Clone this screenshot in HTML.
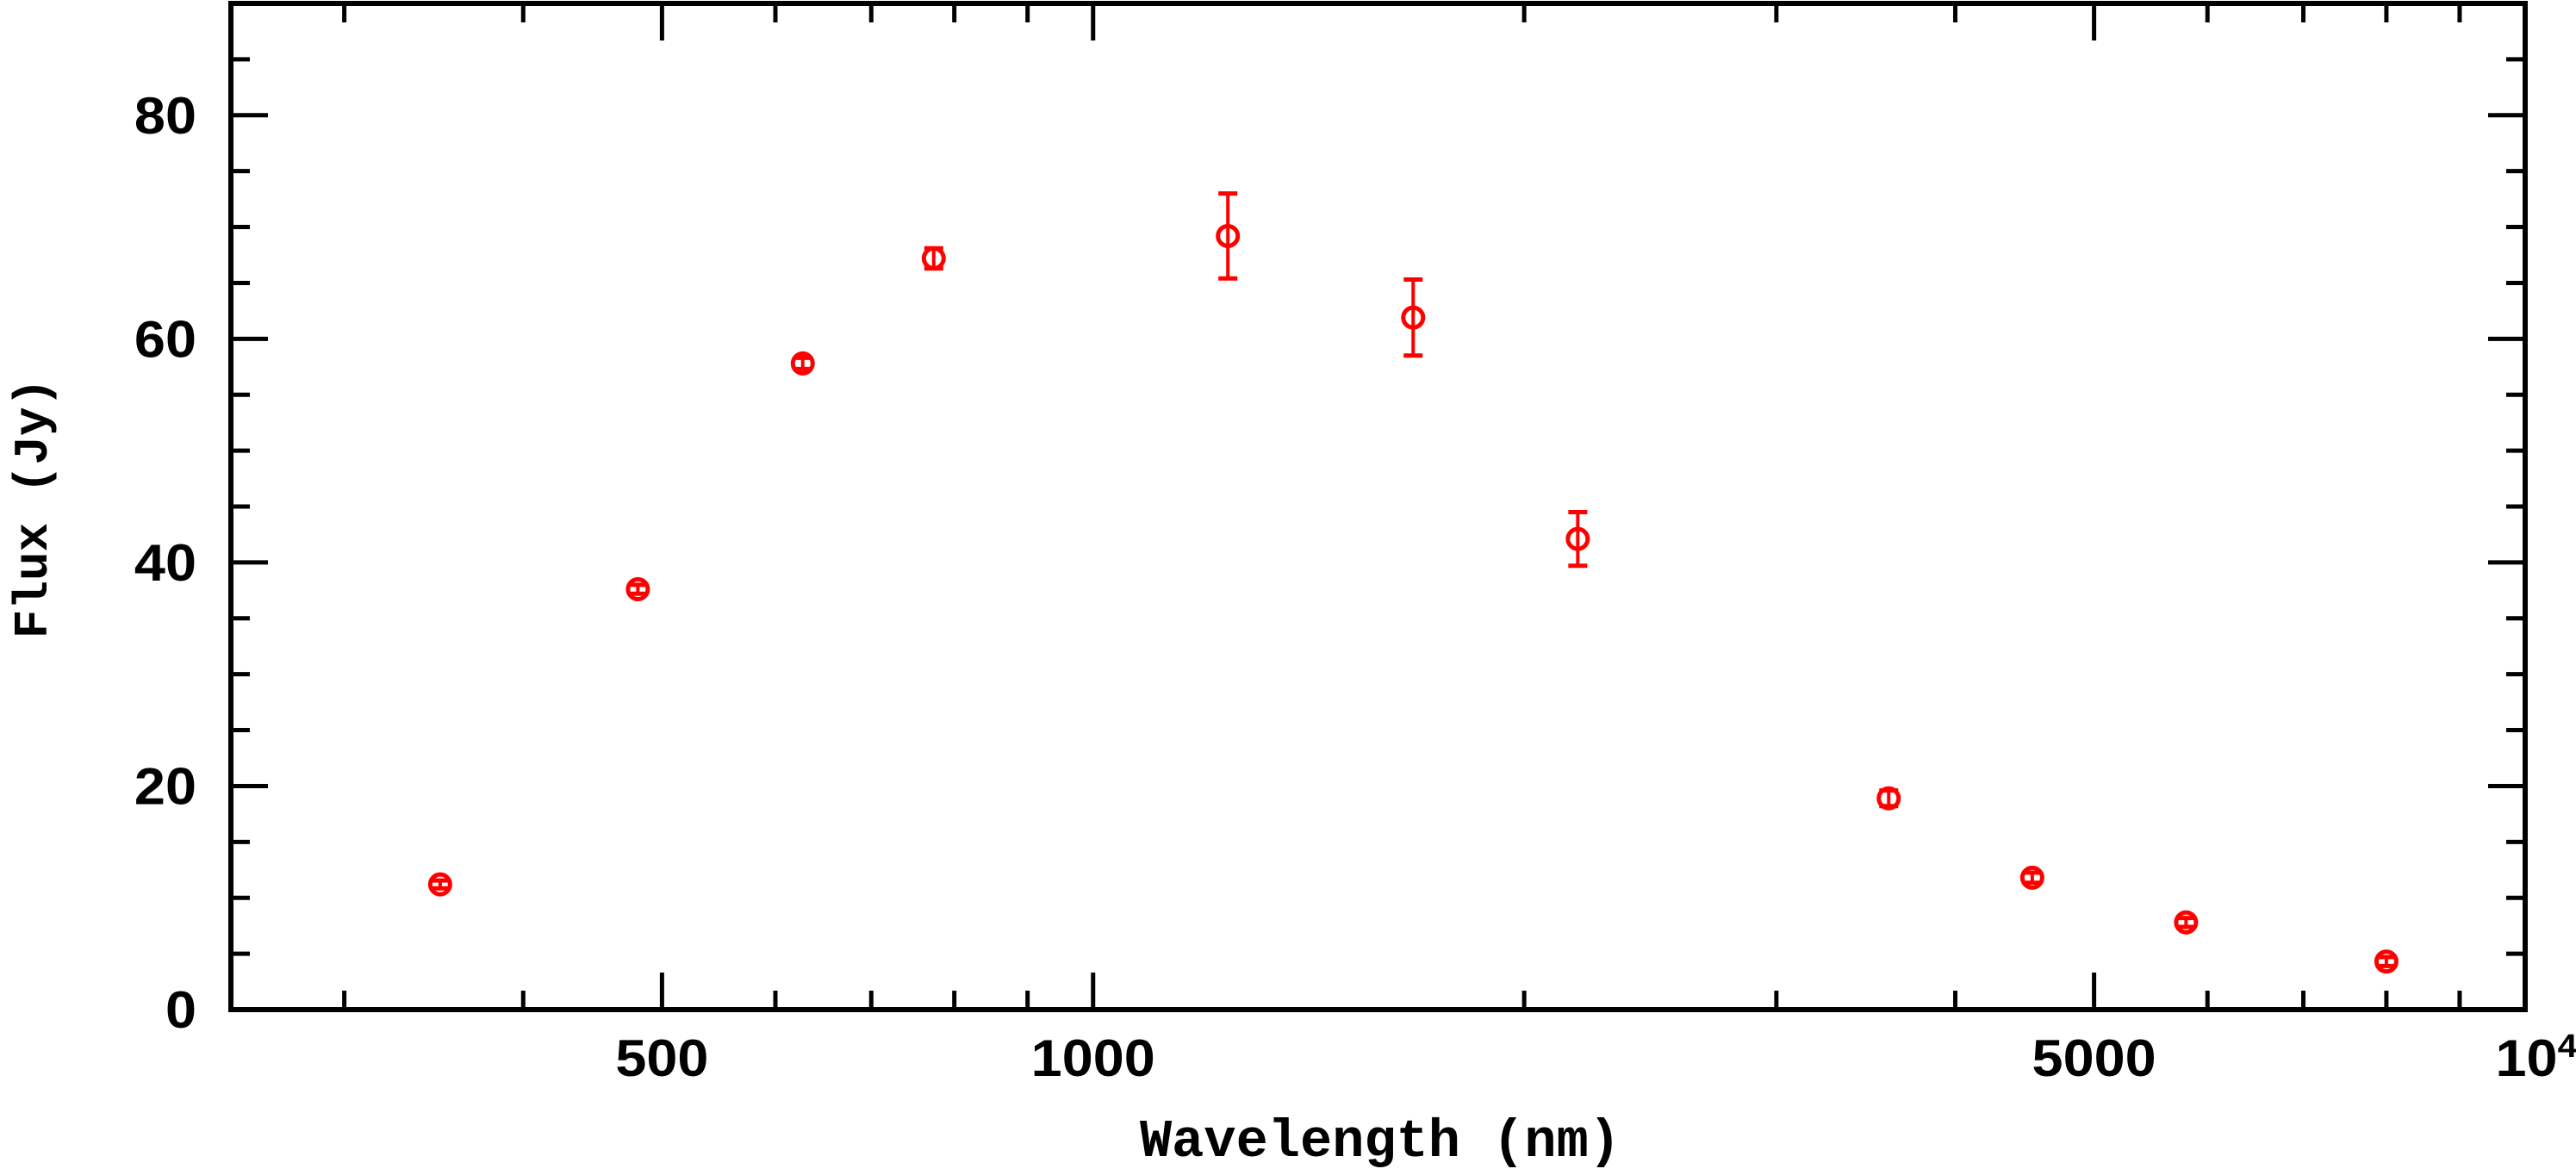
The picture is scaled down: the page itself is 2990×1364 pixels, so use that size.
<!DOCTYPE html>
<html><head><meta charset="utf-8"><style>
html,body{margin:0;padding:0;background:#fff;}
svg{display:block;}
text{font-family:"Liberation Sans",sans-serif;font-weight:bold;fill:#000;}
</style></head><body>
<svg id="chart" width="2990" height="1364" viewBox="0 0 2990 1364" xmlns="http://www.w3.org/2000/svg">
<g id="axes"></g>
<g id="marks"></g>
<text x="1602" y="1342" text-anchor="middle" style="font-family:'Liberation Mono',monospace;font-size:62px;">Wavelength (nm)</text>
<text transform="translate(54,590) rotate(-90)" text-anchor="middle" style="font-family:'Liberation Mono',monospace;font-size:56px;">Flux (Jy)</text>
</svg>
<script>
const wavelengths = [350, 481, 627, 774, 1242, 1673, 2180, 3594, 4527, 5797, 8000];
const fluxes = [11.2, 37.6, 57.8, 67.2, 69.2, 61.9, 42.1, 18.9, 11.8, 7.8, 4.3];
const errors = [0.35, 0.4, 0.5, 0.9, 3.8, 3.4, 2.4, 0.7, 0.45, 0.4, 0.4];
const yTicks = [0, 20, 40, 60, 80];
const xMajor = [500, 1000, 5000, 10000];
const xMajorLabels = ["500", "1000", "5000", "10"];
const xMinor = [300, 400, 600, 700, 800, 900, 2000, 3000, 4000, 6000, 7000, 8000, 9000];

const L = 268, R = 2931, T = 4, B = 1172;
const XMIN = 250, XMAX = 10000, YMIN = 0, YMAX = 90;
const NS = "http://www.w3.org/2000/svg";
function xs(v){ return L + (Math.log10(v) - Math.log10(XMIN)) / (Math.log10(XMAX) - Math.log10(XMIN)) * (R - L); }
function ys(v){ return B - (v - YMIN) / (YMAX - YMIN) * (B - T); }
function mk(tag, attrs, parent){ const e = document.createElementNS(NS, tag); for (const k in attrs) e.setAttribute(k, attrs[k]); parent.appendChild(e); return e; }

const axes = document.getElementById('axes');
const frame = mk('rect', {x:L, y:T, width:R-L, height:B-T, fill:'none', stroke:'#000', 'stroke-width':6}, axes);



for (let v = 0; v <= 90; v += 5) {
  const major = v % 20 === 0;
  const len = major ? 43 : 22;
  const y = ys(v);
  const t1 = mk('line', {x1:L, x2:L+len, y1:y, y2:y, stroke:'#000', 'stroke-width':5}, axes);
  
  
  const t2 = mk('line', {x1:R, x2:R-len, y1:y, y2:y, stroke:'#000', 'stroke-width':5}, axes);
  
  
}
yTicks.forEach(v => {
  const t = mk('text', {x:228, y:ys(v)+21, 'text-anchor':'end', 'font-size':60, transform:'translate(228,0) scale(1.08,1) translate(-228,0)'}, axes);
  t.textContent = String(v);
  
  
});
xMinor.forEach(v => {
  const x = xs(v);
  const a = mk('line', {x1:x, x2:x, y1:B, y2:B-22, stroke:'#000', 'stroke-width':5}, axes);
  
  
  const b = mk('line', {x1:x, x2:x, y1:T, y2:T+22, stroke:'#000', 'stroke-width':5}, axes);
  
  
});
xMajor.forEach((v, i) => {
  const x = xs(v);
  const a = mk('line', {x1:x, x2:x, y1:B, y2:B-43, stroke:'#000', 'stroke-width':5}, axes);
  
  
  const b = mk('line', {x1:x, x2:x, y1:T, y2:T+43, stroke:'#000', 'stroke-width':5}, axes);
  
  
  const t = mk('text', {x:x, y:1249, 'text-anchor':'middle', 'font-size':60, transform:'translate('+x+',0) scale(1.08,1) translate('+(-x)+',0)'}, axes);
  t.textContent = xMajorLabels[i];
  if (v === 10000) {
    const s = mk('tspan', {'font-size':38, dy:-22}, t);
    s.textContent = '4';
    t.setAttribute('x', x + 12);
  }
  
  
});

const marks = document.getElementById('marks');
wavelengths.forEach((w, i) => {
  const g = mk('g', {stroke:'#ff0000', fill:'none', 'stroke-width':4}, marks);
  
  
  const x = xs(w), y = ys(fluxes[i]), yt = ys(fluxes[i] + errors[i]), yb = ys(fluxes[i] - errors[i]);
  const e = mk('line', {x1:x, x2:x, y1:yt, y2:yb}, g);
  
  
  const c1 = mk('line', {x1:x-11, x2:x+11, y1:yt, y2:yt, 'stroke-width':5}, g);
  
  
  const c2 = mk('line', {x1:x-11, x2:x+11, y1:yb, y2:yb, 'stroke-width':5}, g);
  
  
  const c = mk('circle', {cx:x, cy:y, r:11.5, 'stroke-width':5}, g);
  
  
});
</script>
</body></html>
